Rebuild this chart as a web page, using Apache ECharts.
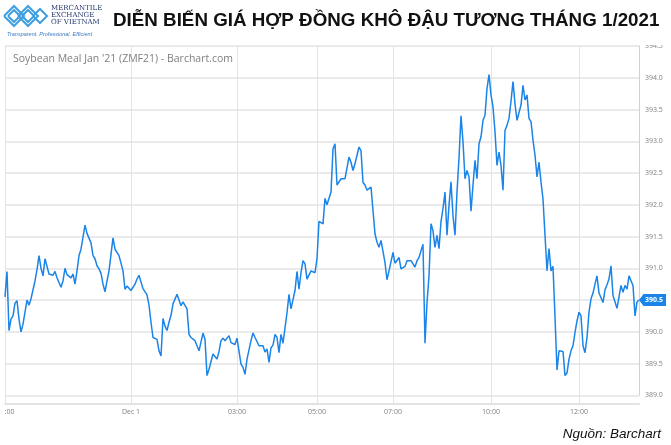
<!DOCTYPE html>
<html><head><meta charset="utf-8">
<script src="https://cdn.jsdelivr.net/npm/echarts@6/dist/echarts.min.js"></script>
<style>html,body{margin:0;padding:0;background:#fff}#c{width:671px;height:445px}</style>
</head><body><div id="c"></div>
<script>
// Soybean Meal Jan '21 (ZMF21) intraday prices, evenly spaced bars
const prices = [
390.55,390.95,390.02,390.2,390.25,390.45,390.49,390.2,390.0,390.12,390.15,390.5,390.42,390.52,390.55,390.8,390.98,391.2,391.0,390.88,391.15,391.12,390.91,390.89,390.89,390.95,390.85,390.86,390.7,390.8,391.0,390.9,390.91,390.85,390.91,390.75,390.96,391.2,391.3,391.31,391.68,391.55,391.52,391.4,
391.2,391.15,391.04,390.99,390.92,390.75,390.63,390.8,390.96,390.95,391.48,391.3,391.29,391.2,391.17,390.96,390.67,390.72,390.7,390.65,390.67,390.75,390.83,390.89,390.86,390.68,390.65,390.58,390.42,390.15,389.91,389.91,389.88,389.7,389.62,390.21,390.09,390.02,390.15,390.26,390.44,390.41,390.59,390.57,390.41,
390.47,390.49,390.36,389.96,389.91,389.88,389.86,389.89,389.7,389.7,389.98,389.88,389.31,389.41,389.42,389.65,389.62,389.57,389.69,389.86,389.9,389.86,389.83,389.94,389.83,389.8,389.8,389.9,389.88,389.49,389.44,389.33,389.57,389.56,389.86,389.98,389.91,389.93,389.78,389.75,389.78,389.68,389.73,389.52,389.75,
389.79,389.96,389.91,389.67,389.96,389.82,389.82,390.3,390.59,390.36,390.37,390.65,390.95,390.67,390.93,391.12,391.07,390.83,390.83,390.96,390.98,390.93,391.15,391.74,391.75,391.7,392.1,392.0,392.02,392.2,392.88,392.96,392.31,392.33,392.41,392.41,392.41,392.38,392.75,392.67,392.54,392.65,392.78,392.91,392.85,
392.35,392.31,392.23,392.2,392.28,391.91,391.54,391.41,391.33,391.44,391.41,391.09,390.82,390.96,390.96,391.25,391.08,391.07,391.17,390.99,390.96,391.03,391.12,391.09,391.12,391.09,391.02,391.12,391.17,391.15,391.38,389.82,390.46,390.88,391.7,391.59,391.33,391.52,391.31,391.74,391.94,392.2,391.52,391.99,392.36,
391.83,391.52,392.2,392.74,393.4,392.99,392.41,392.54,392.44,391.9,392.31,392.7,392.41,392.96,393.07,393.33,393.41,393.83,394.05,393.73,393.54,393.15,392.62,392.83,392.62,392.23,393.17,393.25,393.36,393.63,393.94,393.59,393.33,393.36,393.57,393.88,393.65,393.73,393.36,393.31,393.02,392.78,392.44,392.67,392.36,
392.09,391.52,390.96,391.31,390.96,391.03,390.23,389.4,389.7,389.7,389.69,389.31,389.35,389.57,389.7,389.78,389.99,390.17,390.31,390.25,389.78,389.67,389.91,390.31,390.52,390.61,390.75,390.88,390.61,390.62,390.46,390.66,390.74,390.83,391.04,390.57,390.54,390.37,390.38,390.73,390.62,390.73,390.67,390.88,390.86,390.73,390.25,390.47,
390.5
];
const tickIndex = [0, 63, 116, 156, 194, 243, 287];
const tickLabels = [':00', 'Dec 1', '03:00', '05:00', '07:00', '10:00', '12:00'];
const yMin = 389.0, yMax = 394.5, yStep = 0.5;
const lastPrice = 390.5;
const titleText = 'DIỄN BIẾN GIÁ HỢP ĐỒNG KHÔ ĐẬU TƯƠNG THÁNG 1/2021';
const chartLabel = "Soybean Meal Jan '21 (ZMF21) - Barchart.com";
const sourceText = 'Nguồn: Barchart';

const categories = prices.map((_, i) => String(i));
const isTick = (i) => tickIndex.indexOf(i) >= 0;
const gridColor = '#e3e3e3';
const lineColor = '#1a84e8';

const chart = echarts.init(document.getElementById('c'), null, {renderer: 'canvas'});

const logoBlue = '#3f9fe0';
const logoShapes = [];
const diamonds = [[14, 16, 10], [14, 16, 6], [28, 16, 10], [28, 16, 6], [40, 16, 7]];
diamonds.forEach(d => {
  logoShapes.push({type: 'polyline', z: 50, shape: {points: [[d[0] - d[2], d[1]], [d[0], d[1] - d[2]], [d[0] + d[2], d[1]], [d[0], d[1] + d[2]], [d[0] - d[2], d[1]]]}, style: {stroke: logoBlue, lineWidth: 2, fill: null}});
});

const option = {
  animation: false,
  backgroundColor: '#fff',
  grid: {left: 5, right: 32, top: 46, bottom: 49.7},
  xAxis: {
    type: 'category', data: categories, boundaryGap: false, offset: 8,
    axisLine: {show: true, lineStyle: {color: gridColor, width: 2}},
    axisTick: {show: true, inside: true, length: 8, interval: (i) => isTick(i), lineStyle: {color: gridColor}},
    axisLabel: {
      interval: (i) => isTick(i), showMinLabel: true,
      formatter: (v) => {
        const k = tickIndex.indexOf(Number(v));
        if (k < 0) return '';
        return k === 0 ? '{first|' + tickLabels[0] + '}' : tickLabels[k];
      },
      rich: {first: {padding: [0, 0, 0, 9], color: '#808080', fontSize: 7, fontFamily: 'Open Sans'}},
      color: '#808080', fontSize: 7, fontFamily: 'Open Sans', margin: 5
    },
    splitLine: {show: true, interval: (i) => isTick(i), lineStyle: {color: gridColor, width: 1}}
  },
  yAxis: {
    type: 'value', position: 'right', min: yMin, max: yMax, interval: yStep,
    axisLine: {show: true, lineStyle: {color: '#d0d0d0'}},
    axisTick: {show: false},
    axisLabel: {formatter: (v) => v.toFixed(1), color: '#808080', fontSize: 7, fontFamily: 'Open Sans', margin: 6},
    splitLine: {show: true, lineStyle: {color: gridColor, width: 1.5}}
  },
  series: [{
    type: 'line', data: prices, symbol: 'none', showSymbol: false,
    lineStyle: {color: lineColor, width: 1.5},
    markPoint: {
      symbol: 'path://M0,6 L5,0 L30,0 L30,12 L5,12 Z',
      symbolSize: [27, 12], symbolOffset: [13.5, 0],
      itemStyle: {color: lineColor},
      label: {show: true, color: '#fff', fontSize: 7, fontWeight: 'bold', fontFamily: 'Open Sans', formatter: () => lastPrice.toFixed(1), offset: [1.5, 0]},
      data: [{coord: [String(prices.length - 1), lastPrice]}]
    }
  }],
  graphic: [
    {type: 'rect', z: 40, shape: {x: 641, y: 0, width: 30, height: 45}, style: {fill: '#fff'}},
    ...logoShapes,
    {type: 'text', z: 50, x: 51, y: 8, style: {text: 'MERCANTILE', font: '7px "DejaVu Serif"', fill: '#24386b', textVerticalAlign: 'middle'}},
    {type: 'text', z: 50, x: 51, y: 15, style: {text: 'EXCHANGE', font: '7px "DejaVu Serif"', fill: '#24386b', textVerticalAlign: 'middle'}},
    {type: 'text', z: 50, x: 51, y: 22, style: {text: 'OF VIETNAM', font: '7px "DejaVu Serif"', fill: '#24386b', textVerticalAlign: 'middle'}},
    {type: 'text', z: 50, x: 7, y: 34, style: {text: 'Transparent. Professional. Efficient', font: 'italic 5.5px "Liberation Sans"', fill: '#3b78c2', textVerticalAlign: 'middle'}},
    {type: 'text', z: 50, x: 113, y: 21, style: {text: titleText, font: 'bold 18.8px "Liberation Sans"', fill: '#111', textVerticalAlign: 'middle'}},
    {type: 'text', z: 50, x: 13, y: 59, style: {text: chartLabel, font: '10.5px "Open Sans"', fill: '#7f7f7f', textVerticalAlign: 'middle'}},
    {type: 'text', z: 50, x: 661, y: 434, style: {text: sourceText, font: 'italic 13.5px "Liberation Sans"', fill: '#111', textAlign: 'right', textVerticalAlign: 'middle'}}
  ]
};
chart.setOption(option);
</script>
</body></html>
